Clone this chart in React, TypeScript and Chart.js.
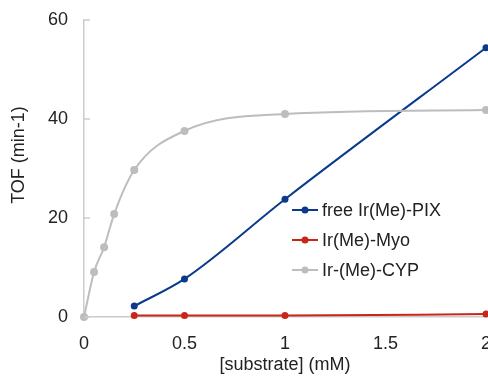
import React, { useEffect, useRef } from "react";
import { Chart, registerables } from "chart.js";

Chart.register(...registerables);

const xTicks = [0, 0.5, 1, 1.5, 2];
const yTicks = [0, 20, 40, 60];

const seriesNames = ["free Ir(Me)-PIX", "Ir(Me)-Myo", "Ir-(Me)-CYP"];
const seriesColors = ["#0b3a8c", "#c9261a", "#bdbdbd"];

const pixX = [0.25, 0.5, 1, 2];
const pixY = [2.2, 7.7, 23.8, 54.4];

const myoX = [0.25, 0.5, 1, 2];
const myoY = [0.3, 0.3, 0.3, 0.6];

const cypX = [0, 0.05, 0.1, 0.15, 0.25, 0.5, 1, 2];
const cypY = [0, 9.1, 14.1, 20.8, 29.7, 37.6, 41, 41.8];

const xTitle = "[substrate] (mM)";
const yTitle = "TOF (min-1)";

const FONT = "'Liberation Sans', Arial, Helvetica, sans-serif";
const TEXT = "#222222";
const AXIS = "#cccccc";

function pts(xs: number[], ys: number[]) {
  return xs.map((x, i) => ({ x, y: ys[i] }));
}

const overlay = {
  id: "overlay",
  afterDraw(chart: any) {
    const ctx = chart.ctx;
    const ys = chart.scales.y;
    const area = chart.chartArea;
    ctx.save();
    // inward y ticks
    ctx.strokeStyle = AXIS;
    ctx.lineWidth = 1.5;
    yTicks.forEach((v) => {
      const py = ys.getPixelForValue(v);
      ctx.beginPath();
      ctx.moveTo(area.left, py);
      ctx.lineTo(area.left + 6, py);
      ctx.stroke();
    });
    // titles
    ctx.fillStyle = TEXT;
    ctx.font = `18px ${FONT}`;
    ctx.textAlign = "center";
    ctx.textBaseline = "middle";
    ctx.fillText(xTitle, (area.left + area.right) / 2, 365);
    ctx.save();
    ctx.translate(19, 155);
    ctx.rotate(-Math.PI / 2);
    ctx.fillText(yTitle, 0, 0);
    ctx.restore();
    // legend
    const rows = [210, 240, 270];
    seriesNames.forEach((name, i) => {
      const y = rows[i];
      ctx.strokeStyle = seriesColors[i];
      ctx.lineWidth = 2;
      ctx.beginPath();
      ctx.moveTo(292, y);
      ctx.lineTo(318, y);
      ctx.stroke();
      ctx.fillStyle = seriesColors[i];
      ctx.beginPath();
      ctx.arc(305, y, 3.5, 0, Math.PI * 2);
      ctx.fill();
      ctx.fillStyle = TEXT;
      ctx.textAlign = "left";
      ctx.fillText(name, 322, y + 1);
    });
    ctx.restore();
  },
};

export default function App() {
  const ref = useRef<HTMLCanvasElement>(null);
  useEffect(() => {
    if (!ref.current) return;
    const mk = (i: number, data: any[], r: number) => ({
      label: seriesNames[i],
      data,
      borderColor: seriesColors[i],
      backgroundColor: seriesColors[i],
      pointBackgroundColor: seriesColors[i],
      pointBorderColor: seriesColors[i],
      pointRadius: r,
      pointBorderWidth: 0,
      borderWidth: 2,
      cubicInterpolationMode: "monotone" as const,
      clip: false as any,
    });
    const chart = new Chart(ref.current, {
      type: "line",
      data: {
        datasets: [
          mk(2, pts(cypX, cypY), 4),
          mk(1, pts(myoX, myoY), 3.5),
          mk(0, pts(pixX, pixY), 3.5),
        ],
      },
      plugins: [overlay],
      options: {
        animation: false,
        responsive: false,
        maintainAspectRatio: false,
        layout: { padding: { top: 0, right: 6, bottom: 0, left: 0 } },
        plugins: { legend: { display: false }, tooltip: { enabled: false } },
        scales: {
          x: {
            type: "linear",
            min: 0,
            max: 2,
            afterBuildTicks: (s: any) => {
              s.ticks = xTicks.map((v) => ({ value: v }));
            },
            afterFit: (s: any) => {
              s.height = 61;
            },
            grid: { display: false, drawTicks: false },
            border: { display: true, color: AXIS, width: 1.5 },
            ticks: {
              padding: 16,
              color: TEXT,
              font: { size: 18, family: FONT },
              maxRotation: 0,
              callback: (v: any) => String(v),
            },
          },
          y: {
            type: "linear",
            min: 0,
            max: 60,
            afterBuildTicks: (s: any) => {
              s.ticks = yTicks.map((v) => ({ value: v }));
            },
            afterFit: (s: any) => {
              s.width = 84;
              s.paddingTop = 20;
            },
            grid: { display: false, drawTicks: false },
            border: { display: true, color: AXIS, width: 1.5 },
            ticks: {
              padding: 16,
              color: TEXT,
              font: { size: 18, family: FONT },
              callback: (v: any) => String(v),
            },
          },
        },
      },
    });
    return () => chart.destroy();
  }, []);
  return (
    <div style={{ position: "fixed", left: 0, top: 0, width: 488, height: 378, overflow: "hidden", background: "#fff" }}>
      <canvas ref={ref} width={507} height={378} style={{ width: 507, height: 378 }} />
    </div>
  );
}
